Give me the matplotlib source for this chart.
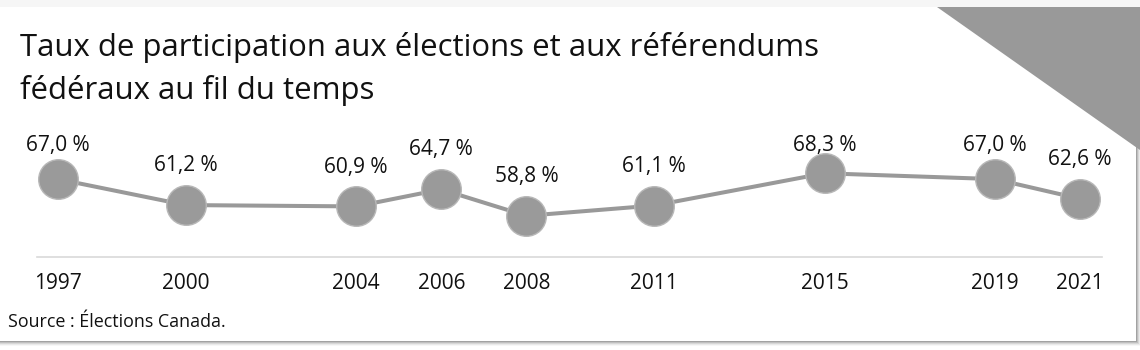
import matplotlib
matplotlib.use("Agg")
import matplotlib.pyplot as plt
from matplotlib.patches import Rectangle, Polygon

plt.rcParams['font.family'] = ['Open Sans', 'DejaVu Sans']

# Data
years = [1997, 2000, 2004, 2006, 2008, 2011, 2015, 2019, 2021]
turnout = [67.0, 61.2, 60.9, 64.7, 58.8, 61.1, 68.3, 67.0, 62.6]
labels = ["67,0 %", "61,2 %", "60,9 %", "64,7 %", "58,8 %", "61,1 %", "68,3 %", "67,0 %", "62,6 %"]

title = "Taux de participation aux élections et aux référendums\nfédéraux au fil du temps"
source = "Source : Élections Canada."

W, H = 1140, 350
fig = plt.figure(figsize=(W / 100, H / 100), dpi=100)
fig.patch.set_facecolor('white')


def px(x, y):
    # pixel (from top-left) -> figure fraction
    return x / W, 1 - y / H


# faint strip at top, card shadow and card
fig.patches.append(Rectangle(px(0, 7), 1, 7 / H, transform=fig.transFigure,
                             facecolor='#f6f6f6', edgecolor='none', zorder=0))
for k, a in zip(range(5, 0, -1), [0.03, 0.05, 0.08, 0.11, 0.15]):
    fig.patches.append(Rectangle(px(-10, 341 + k), (1146 + k) / W, 334 / H,
                                 transform=fig.transFigure, facecolor='black', alpha=a,
                                 edgecolor='none', zorder=0.5))
fig.patches.append(Rectangle(px(-10, 341), 1146 / W, 334 / H, transform=fig.transFigure,
                             facecolor='white', edgecolor='none', zorder=1))

# corner triangle
tri = [px(937, 7), px(1140, 7), px(1140, 150)]
fig.patches.append(Polygon(tri, closed=True, transform=fig.transFigure,
                           facecolor='#999999', edgecolor='none', zorder=2))

# plot area
x0, x1 = 37, 1102
ytop, ybot = 120, 257
ax = fig.add_axes([x0 / W, 1 - ybot / H, (x1 - x0) / W, (ybot - ytop) / H])
ax.patch.set_visible(False)
ax.set_zorder(3)

ax.plot(years, turnout, color='#999999', lw=2.9, zorder=2, solid_capstyle='round')
ax.plot(years, turnout, 'o', ms=28.5, color='#9a9a9a', mec='#b8b8b8', mew=1, zorder=3)

for yr, v, lab in zip(years, turnout, labels):
    ly = min(v + 8.8, 74.6)
    ax.text(yr, ly, lab, ha='center', va='center', fontsize=15, color='#111111')

ax.set_xlim(1996.507, 2021.516)
ax.set_ylim(49.6, 80.2)
ax.set_xticks(years)
ax.set_xticklabels([str(y) for y in years], fontsize=15, color='#111111')
ax.tick_params(axis='x', length=0, pad=11.5)
ax.set_yticks([])
for s in ['top', 'left', 'right']:
    ax.spines[s].set_visible(False)
ax.spines['bottom'].set_color('#d9d9d9')
ax.spines['bottom'].set_linewidth(1.2)

fig.text(20 / W, 1 - 32 / H, title, fontsize=22.4, va='top', ha='left',
         color='#111111', linespacing=1.5, zorder=4)
fig.text(8 / W, 1 - 322 / H, source, fontsize=12.9, va='center', ha='left',
         color='#111111', zorder=4)

fig.savefig('out.png', dpi=100)
